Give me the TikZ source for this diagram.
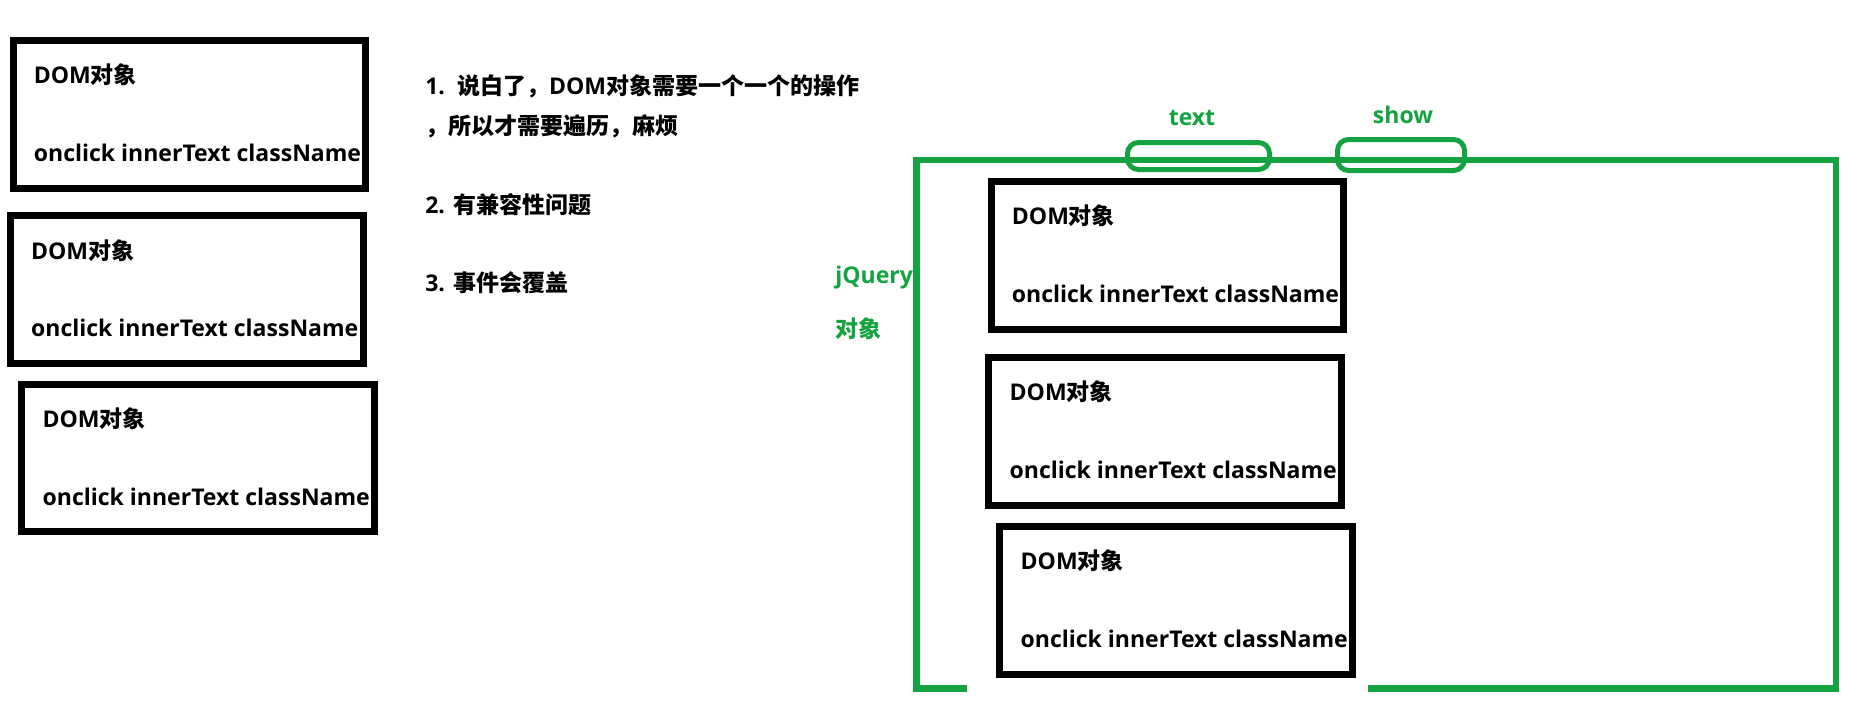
\documentclass[tikz,border=0pt]{standalone}
\usepackage{fontspec}
\setmainfont{Open Sans}
\newfontfamily\cjk{Noto Sans CJK SC}
\definecolor{jqgreen}{RGB}{20,163,64}

\begin{document}
\begin{tikzpicture}[x=0.02cm, y=-0.02cm,
    dombox/.style={draw, line width=0.14cm, minimum width=7.06cm, minimum height=2.96cm, inner sep=0pt},
    txt/.style={font=\bfseries\fontsize{13.1pt}{15.7pt}\selectfont, inner sep=0pt, anchor=west},
    greentxt/.style={txt, text=jqgreen},
    ring/.style={draw=jqgreen, line width=0.1cm, rounded corners=0.22cm, inner sep=0pt},
    jqframe/.style={draw=jqgreen, line width=0.13cm},
]
\useasboundingbox (0,0) rectangle (1856,701);

% DOM objects, one by one
\node[dombox] (l1) at (189.5,114.5) {};
\node[txt] (l1name) at ([shift={(24,38)}]l1.north west) {DOM{\cjk 对象}};
\node[txt] (l1props) at ([shift={(24,116)}]l1.north west) {onclick innerText className};

\node[dombox] (l2) at (186.75,289.75) {};
\node[txt] (l2name) at ([shift={(24,38)}]l2.north west) {DOM{\cjk 对象}};
\node[txt] (l2props) at ([shift={(24,116)}]l2.north west) {onclick innerText className};

\node[dombox] (l3) at (198.25,458) {};
\node[txt] (l3name) at ([shift={(24,38)}]l3.north west) {DOM{\cjk 对象}};
\node[txt] (l3props) at ([shift={(24,116)}]l3.north west) {onclick innerText className};

% Notes
\node[txt] (note1) at (425,86) {1.\ \ {\cjk 说白了，}DOM{\cjk 对象需要一个一个的操作}};
\node[txt] (note1b) at (425,126) {\cjk ，所以才需要遍历，麻烦};
\node[txt] (note2) at (425,205) {2. {\cjk 有兼容性问题}};
\node[txt] (note3) at (425,283) {3. {\cjk 事件会覆盖}};

% jQuery object wrapping the DOM objects
\coordinate (gapl) at (967,688.5);
\coordinate (gapr) at (1368,688.5);
\draw[jqframe] (gapl) -- (916.5,688.5) -- (916.5,160) -- (1836,160) -- (1836,688.5) -- (gapr);

\node[greentxt] (jq) at (835,277.5) {jQuery};
\node[greentxt] (jqobj) at (835,329) {\cjk 对象};

\node[ring, minimum width=2.84cm, minimum height=0.54cm] (textring) at (1198.5,156) {};
\node[ring, minimum width=2.54cm, minimum height=0.62cm] (showring) at (1401,155) {};
\node[greentxt, anchor=center] (textlbl) at (1192,118) {text};
\node[greentxt, anchor=center] (showlbl) at (1403,114.5) {show};

\node[dombox] (r1) at (1167.5,255.25) {};
\node[txt] (r1name) at ([shift={(24,38)}]r1.north west) {DOM{\cjk 对象}};
\node[txt] (r1props) at ([shift={(24,116)}]r1.north west) {onclick innerText className};

\node[dombox] (r2) at (1165.25,431.25) {};
\node[txt] (r2name) at ([shift={(24,38)}]r2.north west) {DOM{\cjk 对象}};
\node[txt] (r2props) at ([shift={(24,116)}]r2.north west) {onclick innerText className};

\node[dombox] (r3) at (1176.25,600.25) {};
\node[txt] (r3name) at ([shift={(24,38)}]r3.north west) {DOM{\cjk 对象}};
\node[txt] (r3props) at ([shift={(24,116)}]r3.north west) {onclick innerText className};

\end{tikzpicture}
\end{document}
